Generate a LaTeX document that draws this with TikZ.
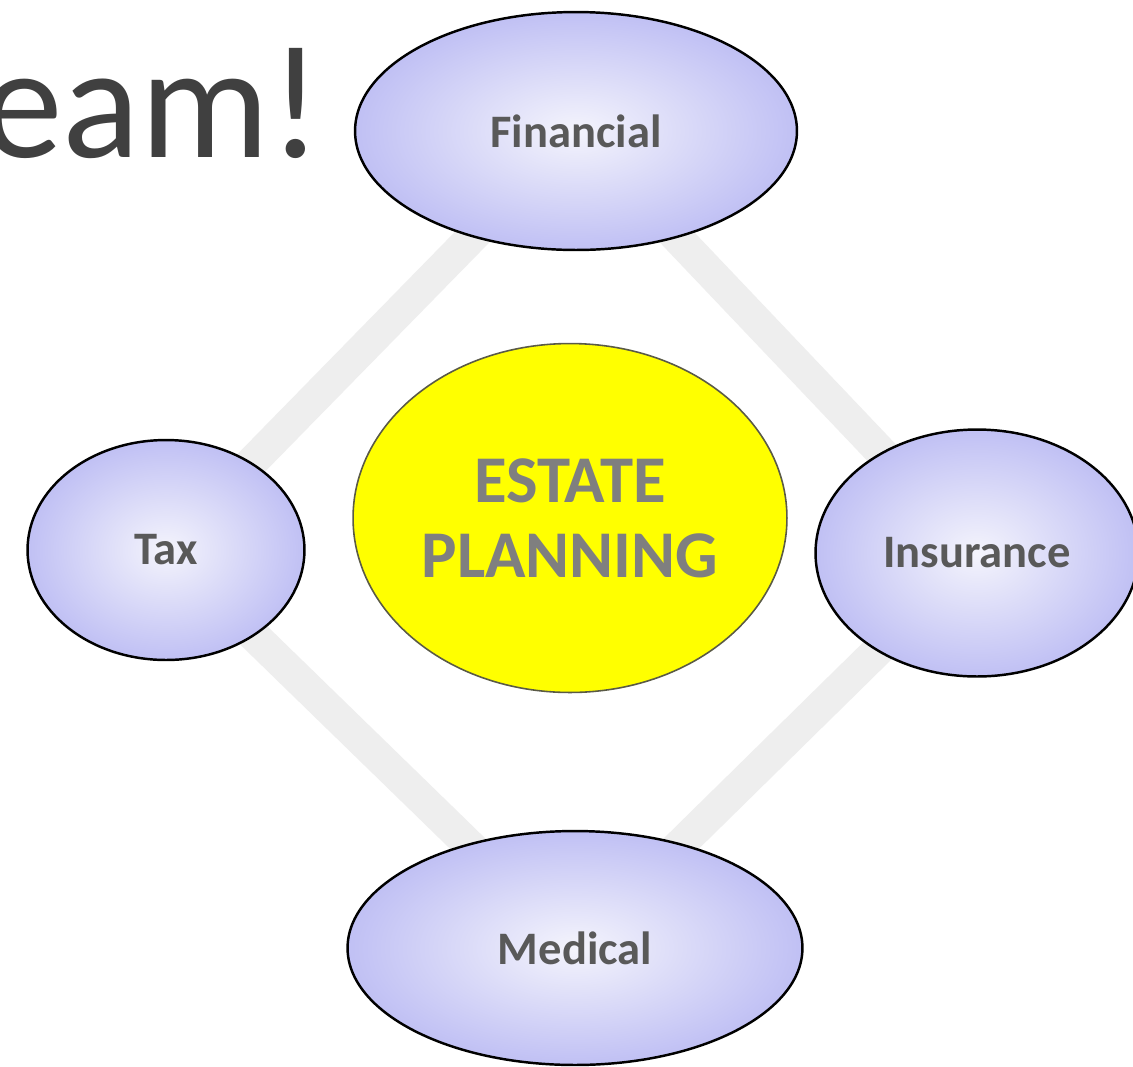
\documentclass[tikz,border=0pt]{standalone}
\usepackage{fontspec}
\setmainfont{Carlito}
\usetikzlibrary{shapes.geometric}
\definecolor{lav}{RGB}{192,192,244}
\definecolor{lavin}{RGB}{244,244,252}
\definecolor{bandgray}{RGB}{238,238,238}
\definecolor{lbl}{RGB}{89,89,89}
\definecolor{ctr}{RGB}{127,127,127}
\definecolor{ttl}{RGB}{64,64,64}
\definecolor{yel}{RGB}{255,255,0}
\definecolor{yelborder}{RGB}{90,90,70}
\pgfdeclarelayer{bg}
\pgfsetlayers{bg,main}
\begin{document}
\begin{tikzpicture}[x=0.02cm,y=-0.02cm,
  sat/.style={ellipse, draw=black, line width=1.4pt, inner sep=0pt,
    inner color=lavin, outer color=lav,
    font=\bfseries\fontsize{26.5}{31}\selectfont, text=lbl},
  hub/.style={ellipse, draw=yelborder, line width=0.9pt, fill=yel, inner sep=0pt,
    align=center, font=\bfseries\fontsize{38}{42.7}\selectfont, text=ctr},
  link/.style={draw=bandgray, line width=0.64cm, line join=round}]
\useasboundingbox (0,0) rectangle (1133,1066);
\node[anchor=base east, inner sep=0pt, text=ttl, font=\fontsize{92}{100}\selectfont]
  (title) at (322,157) {Team!};
\node[sat, minimum width=8.84cm, minimum height=4.76cm] (fin) at (576,131) {Financial};
\node[sat, minimum width=5.54cm, minimum height=4.4cm] (tax) at (166,550) {Tax};
\node[sat, minimum width=6.46cm, minimum height=4.94cm] (ins) at (977,553) {Insurance};
\node[sat, minimum width=9.1cm, minimum height=4.68cm] (med) at (575,948) {Medical};
\node[hub, minimum width=8.68cm, minimum height=6.98cm] (hub) at (570,518) {ESTATE\\PLANNING};
\begin{pgfonlayer}{bg}
\fill[white] (0,0) rectangle (1133,1066);
\draw[link] (fin.center) -- (ins.center) -- (med.center) -- (tax.center) -- cycle;
\end{pgfonlayer}
\end{tikzpicture}
\end{document}
